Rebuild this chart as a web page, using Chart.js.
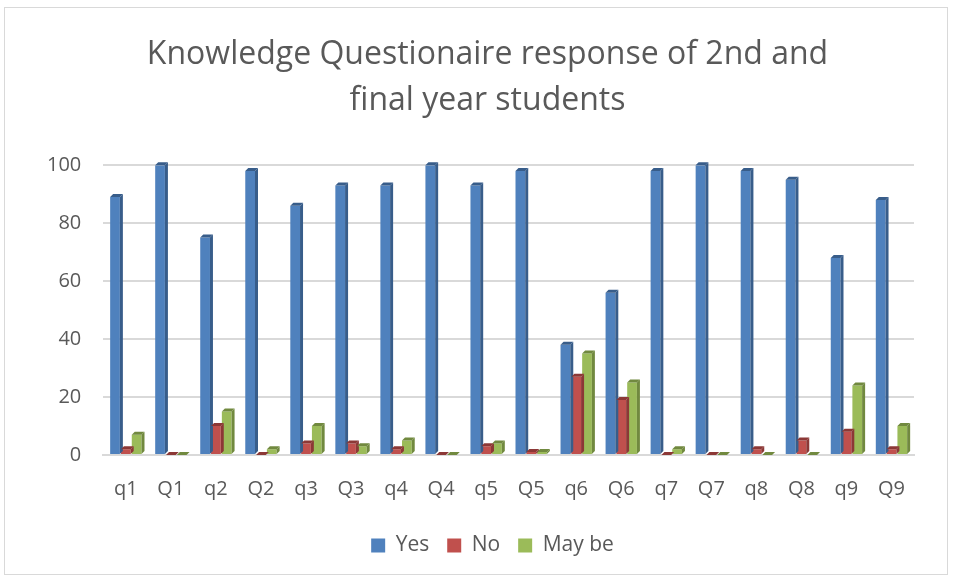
<!DOCTYPE html>
<html>
<head>
<meta charset="utf-8">
<script src="https://cdn.jsdelivr.net/npm/chart.js@4"></script>
<style>
    html, body { margin: 0; padding: 0; background: #fff; }
    #wrap {
        position: absolute; left: 4px; top: 7px;
        width: 944px; height: 568px;
        border: 1px solid #d9d9d9; box-sizing: border-box;
    }
</style>
</head>
<body>
<div id="wrap"><canvas id="responseChart"></canvas></div>
<script>
// Chart data
const questions = ['q1', 'Q1', 'q2', 'Q2', 'q3', 'Q3', 'q4', 'Q4', 'q5', 'Q5', 'q6', 'Q6', 'q7', 'Q7', 'q8', 'Q8', 'q9', 'Q9'];
const yesValues = [89, 100, 75, 98, 86, 93, 93, 100, 93, 98, 38, 56, 98, 100, 98, 95, 68, 88];
const noValues = [2, 0, 10, 0, 4, 4, 2, 0, 3, 1, 27, 19, 0, 0, 2, 5, 8, 2];
const maybeValues = [7, 0, 15, 2, 10, 3, 5, 0, 4, 1, 35, 25, 2, 0, 0, 0, 24, 10];
const yTicks = [0, 20, 40, 60, 80, 100];

const seriesColors = ['#4f81bd', '#c0504d', '#9bbb59'];
const sideColors = ['#385d8a', '#8c3836', '#71893f'];

// Fake 3D depth on the bars (right side + top face)
const barDepth = {
    id: 'barDepth',
    afterDatasetsDraw(chart) {
        const ctx = chart.ctx;
        const d = 3;
        chart.data.datasets.forEach((ds, i) => {
            const meta = chart.getDatasetMeta(i);
            meta.data.forEach(bar => {
                const left = bar.x - bar.width / 2;
                const right = bar.x + bar.width / 2;
                const top = bar.y;
                const base = bar.base;
                ctx.save();
                ctx.fillStyle = sideColors[i];
                ctx.beginPath();
                ctx.moveTo(right, top);
                ctx.lineTo(right + d, top - d);
                ctx.lineTo(right + d, base - d);
                ctx.lineTo(right, base);
                ctx.closePath();
                ctx.fill();
                ctx.beginPath();
                ctx.moveTo(left, top);
                ctx.lineTo(left + d, top - d);
                ctx.lineTo(right + d, top - d);
                ctx.lineTo(right, top);
                ctx.closePath();
                ctx.fill();
                ctx.restore();
            });
        });
    }
};

// Title and legend sit a bit right of the canvas centre in the original
const nudgeBoxes = {
    id: 'nudgeBoxes',
    afterLayout(chart) {
        chart.titleBlock.left += 18;
        chart.titleBlock.right += 18;
        chart.legend.left += 23;
        chart.legend.right += 23;
    }
};

const ctx = document.getElementById('responseChart').getContext('2d');
new Chart(ctx, {
    type: 'bar',
    data: {
        labels: questions,
        datasets: [
            { label: 'Yes', data: yesValues, backgroundColor: seriesColors[0] },
            { label: 'No', data: noValues, backgroundColor: seriesColors[1] },
            { label: 'May be', data: maybeValues, backgroundColor: seriesColors[2] }
        ]
    },
    options: {
        responsive: true,
        maintainAspectRatio: false,
        animation: false,
        layout: { padding: { left: 20, right: 33, top: 24, bottom: 8 } },
        datasets: { bar: { barPercentage: 0.9, categoryPercentage: 0.72 } },
        scales: {
            x: {
                grid: { display: false, drawTicks: false },
                border: { color: '#d9d9d9', width: 2 },
                ticks: { color: '#595959', font: { family: 'Open Sans', size: 20 }, padding: 22 },
                afterFit: axis => { axis.height -= 6; }
            },
            y: {
                min: 0,
                max: 100,
                afterBuildTicks: axis => { axis.ticks = yTicks.map(v => ({ value: v })); },
                grid: { color: '#d9d9d9', lineWidth: 2, drawTicks: false },
                border: { display: false },
                ticks: { color: '#595959', font: { family: 'Open Sans', size: 20 }, padding: 22 }
            }
        },
        plugins: {
            title: {
                display: true,
                text: ['Knowledge Questionaire response of 2nd and', 'final year students'],
                color: '#595959',
                font: { family: 'Open Sans', size: 32, weight: 'normal', lineHeight: 1.44 },
                padding: { top: 0, bottom: 41 }
            },
            legend: {
                position: 'bottom',
                labels: {
                    color: '#595959',
                    font: { family: 'Open Sans', size: 21 },
                    boxWidth: 14,
                    boxHeight: 14,
                    padding: 18
                }
            },
            tooltip: { enabled: false }
        }
    },
    plugins: [barDepth, nudgeBoxes]
});
</script>
</body>
</html>
